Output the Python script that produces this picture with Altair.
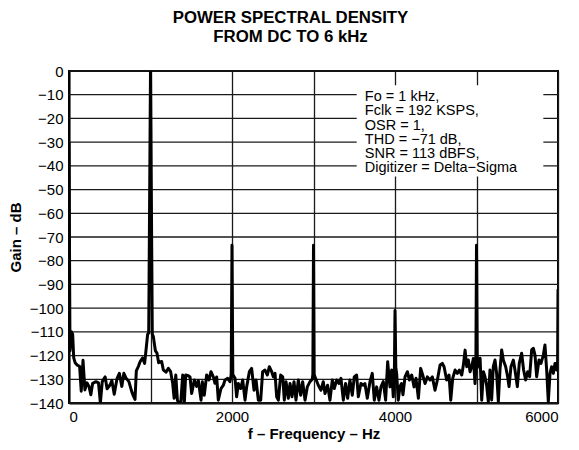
import altair as alt
import pandas as pd

freq = [0, 12, 30, 45, 58, 75, 100, 130, 150, 172, 195, 220, 245, 268, 290, 330, 362, 385, 408, 444,
        467, 503, 526, 555, 590, 618, 648, 673, 700, 735, 768, 790, 810, 826, 852, 872, 902, 928, 950, 965,
        978, 1000, 1022, 1035, 1060, 1080, 1100, 1137, 1157, 1190, 1219, 1247, 1272, 1290, 1310, 1330, 1346, 1372, 1395, 1415,
        1432, 1464, 1485, 1505, 1538, 1566, 1587, 1620, 1636, 1660, 1689, 1718, 1742, 1771, 1791, 1812, 1832, 1865, 1894, 1914,
        1947, 1975, 1990, 2000, 2010, 2037, 2057, 2078, 2106, 2131, 2160, 2180, 2213, 2241, 2270, 2295, 2323, 2352, 2376, 2405,
        2434, 2458, 2487, 2507, 2528, 2548, 2569, 2597, 2622, 2642, 2663, 2691, 2712, 2736, 2761, 2785, 2814, 2843, 2867, 2896,
        2924, 2957, 2985, 2992, 3000, 3008, 3030, 3059, 3092, 3120, 3141, 3173, 3202, 3231, 3255, 3284, 3312, 3337, 3366, 3394,
        3419, 3447, 3476, 3500, 3529, 3550, 3582, 3611, 3631, 3660, 3693, 3721, 3746, 3775, 3803, 3828, 3856, 3885, 3910, 3938,
        3959, 3979, 3992, 4000, 4010, 4020, 4040, 4062, 4080, 4098, 4123, 4152, 4176, 4205, 4234, 4258, 4287, 4315, 4340, 4369,
        4397, 4430, 4458, 4491, 4520, 4553, 4581, 4602, 4634, 4663, 4684, 4708, 4737, 4765, 4790, 4819, 4839, 4860, 4880, 4900,
        4921, 4941, 4962, 4982, 4992, 5000, 5010, 5025, 5044, 5064, 5085, 5104, 5124, 5145, 5165, 5186, 5206, 5227, 5247, 5268,
        5288, 5309, 5329, 5358, 5382, 5399, 5423, 5452, 5472, 5501, 5525, 5554, 5578, 5603, 5628, 5652, 5677, 5697, 5718, 5738,
        5767, 5791, 5820, 5840, 5861, 5881, 5902, 5922, 5943, 5963, 5984, 5995, 6000]

gain = [-30, -118, -110, -111, -121, -123, -124, -124.5, -135, -122, -134.5, -131.5, -133, -136.5, -131.7, -131, -131.5, -140, -131, -129,
        -134, -132.4, -130.5, -136.3, -129.6, -127.5, -133, -127.5, -129.5, -131, -135, -137, -138.5, -126.5, -124.5, -122.6, -121, -123.3, -116, -111,
        -110.5, 0, -111, -112, -118, -119, -123, -122.5, -126, -127, -125.4, -126.8, -131.7, -138, -128.2, -138.8, -140, -139.5, -128.2, -140,
        -128.2, -128.5, -129, -136, -130.3, -133, -130.5, -138.8, -131, -136.7, -128.2, -130.3, -126.8, -129, -131.7, -129, -138.8, -133.9, -132.5, -130.3,
        -129.6, -131, -128, -73.5, -128, -129.6, -137.4, -131.8, -133.9, -130.3, -138.8, -133.2, -126.8, -125.4, -134.6, -130.3, -138.8, -138.8, -126.8, -126.1,
        -128.2, -124.7, -126.8, -129, -127.5, -137.4, -138.8, -128.2, -129, -138.8, -131, -138, -131.8, -137.4, -131, -138.8, -130.3, -136.7, -131, -138.8,
        -133.2, -131, -130, -128, -73.5, -128, -130, -132.5, -134.6, -131, -136, -132.5, -138.8, -130.3, -133.9, -130.3, -131.8, -129.6, -138.8, -131.8,
        -138, -130.3, -136.7, -129, -128.2, -137.4, -131.8, -132.5, -131.8, -138, -131, -127.5, -138.8, -133.2, -138.8, -133.2, -131, -138.8, -122.6, -133.2,
        -126.1, -137.4, -128, -101, -125, -127.5, -138.8, -133, -131.8, -136.5, -129, -126.8, -130.3, -128.2, -133.2, -129.6, -138, -125.4, -128.2, -131.8,
        -129, -130.3, -129, -134.6, -130.3, -124, -123.3, -124.7, -130.3, -128.2, -138.8, -129.6, -126.1, -127.5, -126.1, -128.2, -124, -117.7, -124.7, -121.9,
        -126.8, -124.7, -121.2, -131.8, -125, -73.5, -125, -121.5, -121.2, -138.8, -126.8, -128.9, -132.4, -139.4, -126.1, -138.7, -124.7, -121.9, -127.5, -139.4,
        -126.1, -117.6, -121.9, -124.7, -128.9, -133.1, -124.7, -121.9, -126.1, -133.1, -123.3, -119, -126.1, -130.3, -126.8, -128.9, -117.6, -116.9, -119.8, -128.9,
        -121.9, -123.3, -119.8, -115.5, -126.1, -139.4, -127.5, -124.7, -127.5, -123.3, -126.1, -125, -92]

x_ticks = [0, 1000, 2000, 3000, 4000, 5000, 6000]
y_ticks = list(range(-140, 1, 10))

title_lines = ["POWER SPECTRAL DENSITY", "FROM DC TO 6 kHz"]
note_lines = ["Fo = 1 kHz,", "Fclk = 192 KSPS,", "OSR = 1,", "THD = \u221271 dB,",
              "SNR = 113 dBFS,", "Digitizer = Delta\u2212Sigma"]

FONT = "Liberation Sans"
GRID = "#1a1a1a"

df = pd.DataFrame({"f": freq, "g": gain})
grid_df = pd.DataFrame({"g": y_ticks})

xs = alt.Scale(domain=[0, 6000], nice=False)
ys = alt.Scale(domain=[-140, 0], nice=False)

xaxis = alt.Axis(values=x_ticks, labelExpr="datum.value % 2000 == 0 ? datum.label : ''",
                 format="d", ticks=False, labelPadding=6, titlePadding=2, labelOverlap=False,
                 grid=True, gridColor=GRID, gridWidth=1.3, gridOpacity=1,
                 title="f \u2013 Frequency \u2013 Hz")
yaxis = alt.Axis(values=y_ticks, ticks=False, labelPadding=6, titlePadding=6, labelOverlap=False,
                 grid=False, title="Gain \u2013 dB")

hgrid = alt.Chart(grid_df).mark_rule(color=GRID, strokeWidth=1.3, opacity=1).encode(
    y=alt.Y("g:Q", scale=ys, axis=yaxis),
    x=alt.value(0),
    x2=alt.value(489),
)

line = alt.Chart(df).mark_line(color="black", strokeWidth=3, strokeJoin="round", clip=True).encode(
    x=alt.X("f:Q", scale=xs, axis=xaxis),
    y=alt.Y("g:Q", scale=ys, axis=yaxis),
)

box_df = pd.DataFrame({"x1": [3530], "x2": [5820], "y1": [-6], "y2": [-44.5]})
box = alt.Chart(box_df).mark_rect(fill="white").encode(
    x=alt.X("x1:Q", scale=xs, axis=xaxis), x2="x2:Q",
    y=alt.Y("y1:Q", scale=ys, axis=yaxis), y2="y2:Q",
)

note_df = pd.DataFrame({"x": [3630], "y": [-12.7], "t": [note_lines]})
note = alt.Chart(note_df).mark_text(align="left", baseline="alphabetic", font=FONT,
                                    fontSize=14.5, lineHeight=14.2, color="black").encode(
    x=alt.X("x:Q", scale=xs, axis=xaxis), y=alt.Y("y:Q", scale=ys, axis=yaxis), text="t:N"
)

chart = alt.layer(hgrid, line, box, note).properties(
    width=489, height=332,
    title=alt.TitleParams(text=title_lines, font=FONT, fontSize=16.8, fontWeight="bold",
                          lineHeight=19, anchor="middle", dx=-23, offset=18, color="black"),
    padding={"left": 61, "top": 63, "right": 13, "bottom": 39},
    autosize="none",
).configure_view(stroke="black", strokeWidth=2).configure_axis(
    domainColor="black", domainWidth=2,
    labelFont=FONT, labelFontSize=15, labelColor="black",
    titleFont=FONT, titleFontSize=15, titleFontWeight="bold", titleColor="black",
)

chart.save("out.html", embed_options={"renderer": "svg", "actions": False})
